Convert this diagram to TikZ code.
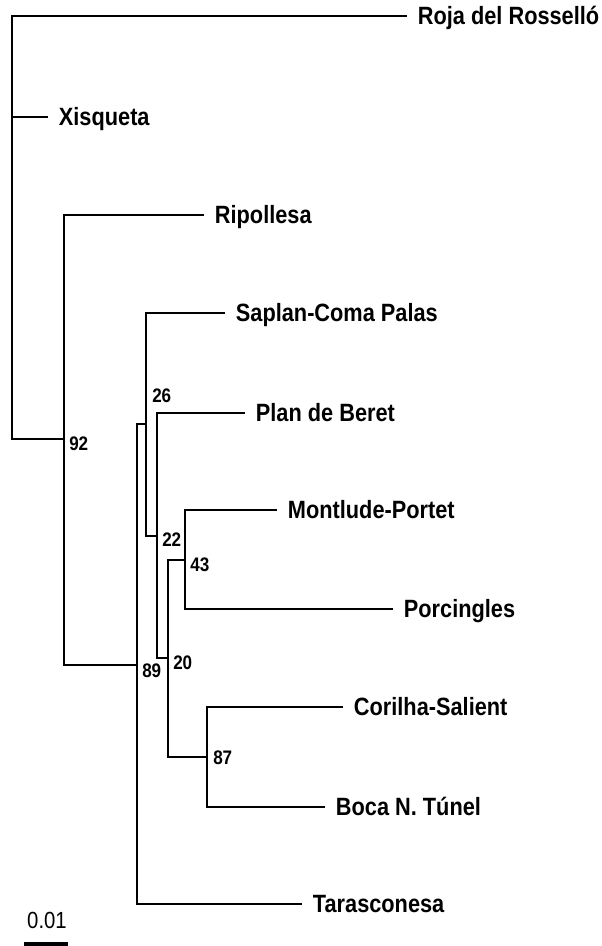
\documentclass[tikz,border=0pt]{standalone}
\usepackage{fontspec}
\setmainfont{Liberation Sans}
\newfontfamily\taxfont[FakeStretch=0.87]{Liberation Sans}
\usepackage{tikz}

\tikzset{
  branch/.style={line width=2.1pt},
  taxon/.style={anchor=west, inner xsep=8pt, inner ysep=0pt, text height=13.4pt, text depth=0pt,
    font=\taxfont\bfseries\fontsize{18.75}{20}\selectfont},
  boot/.style={anchor=west, inner sep=0pt, font=\taxfont\bfseries\fontsize{14.7}{16}\selectfont},
  scalelabel/.style={inner sep=0pt, font=\taxfont\fontsize{17.5}{18}\selectfont},
  scalebar/.style={line width=2.4pt}
}

\begin{document}
\begin{tikzpicture}[x=0.75pt,y=0.75pt,yscale=-1,xscale=1]
\useasboundingbox (0,0) rectangle (601,946);

%Inner nodes of the tree
\coordinate (root) at (12,228);
\coordinate (n92) at (64,439);
\coordinate (n89) at (137,665);
\coordinate (n26) at (146,424);
\coordinate (n22) at (157,536);
\coordinate (n20) at (168,658);
\coordinate (n43) at (185,560);
\coordinate (n87) at (207,757);

% Text Node
\node[taxon] (roja) at (407,16) {Roja del Rosselló};
% Text Node
\node[taxon] (xisq) at (48,117) {Xisqueta};
% Text Node
\node[taxon] (ripo) at (204,215) {Ripollesa};
% Text Node
\node[taxon] (saplan) at (225,313) {Saplan-Coma Palas};
% Text Node
\node[taxon] (plan) at (245,413) {Plan de Beret};
% Text Node
\node[taxon] (mont) at (277,510) {Montlude-Portet};
% Text Node
\node[taxon] (porc) at (393,609) {Porcingles};
% Text Node
\node[taxon] (cori) at (343,707) {Corilha-Salient};
% Text Node
\node[taxon] (boca) at (325,807) {Boca N. Túnel};
% Text Node
\node[taxon] (taras) at (302,904) {Tarasconesa};

%Branches
\draw[branch] (root) |- (roja.west);
\draw[branch] (root) |- (xisq.west);
\draw[branch] (root) |- (n92);
\draw[branch] (n92) |- (ripo.west);
\draw[branch] (n92) |- (n89);
\draw[branch] (n89) |- (n26);
\draw[branch] (n89) |- (taras.west);
\draw[branch] (n26) |- (saplan.west);
\draw[branch] (n26) |- (n22);
\draw[branch] (n22) |- (plan.west);
\draw[branch] (n22) |- (n20);
\draw[branch] (n20) |- (n43);
\draw[branch] (n20) |- (n87);
\draw[branch] (n43) |- (mont.west);
\draw[branch] (n43) |- (porc.west);
\draw[branch] (n87) |- (cori.west);
\draw[branch] (n87) |- (boca.west);

% Bootstrap values
\node[boot] (b92) at (69,443.5) {92};
\node[boot] (b89) at (142,671) {89};
\node[boot] (b26) at (152,396) {26};
\node[boot] (b22) at (162,539.5) {22};
\node[boot] (b43) at (190,564.5) {43};
\node[boot] (b20) at (173,662.5) {20};
\node[boot] (b87) at (213,757.5) {87};

%Scale bar
\node[scalelabel] (scl) at (47,920) {0.01};
\coordinate (sbl) at (24,944);
\coordinate (sbr) at (68,944);
\draw[scalebar] (sbl) -- (sbr);

\end{tikzpicture}
\end{document}
